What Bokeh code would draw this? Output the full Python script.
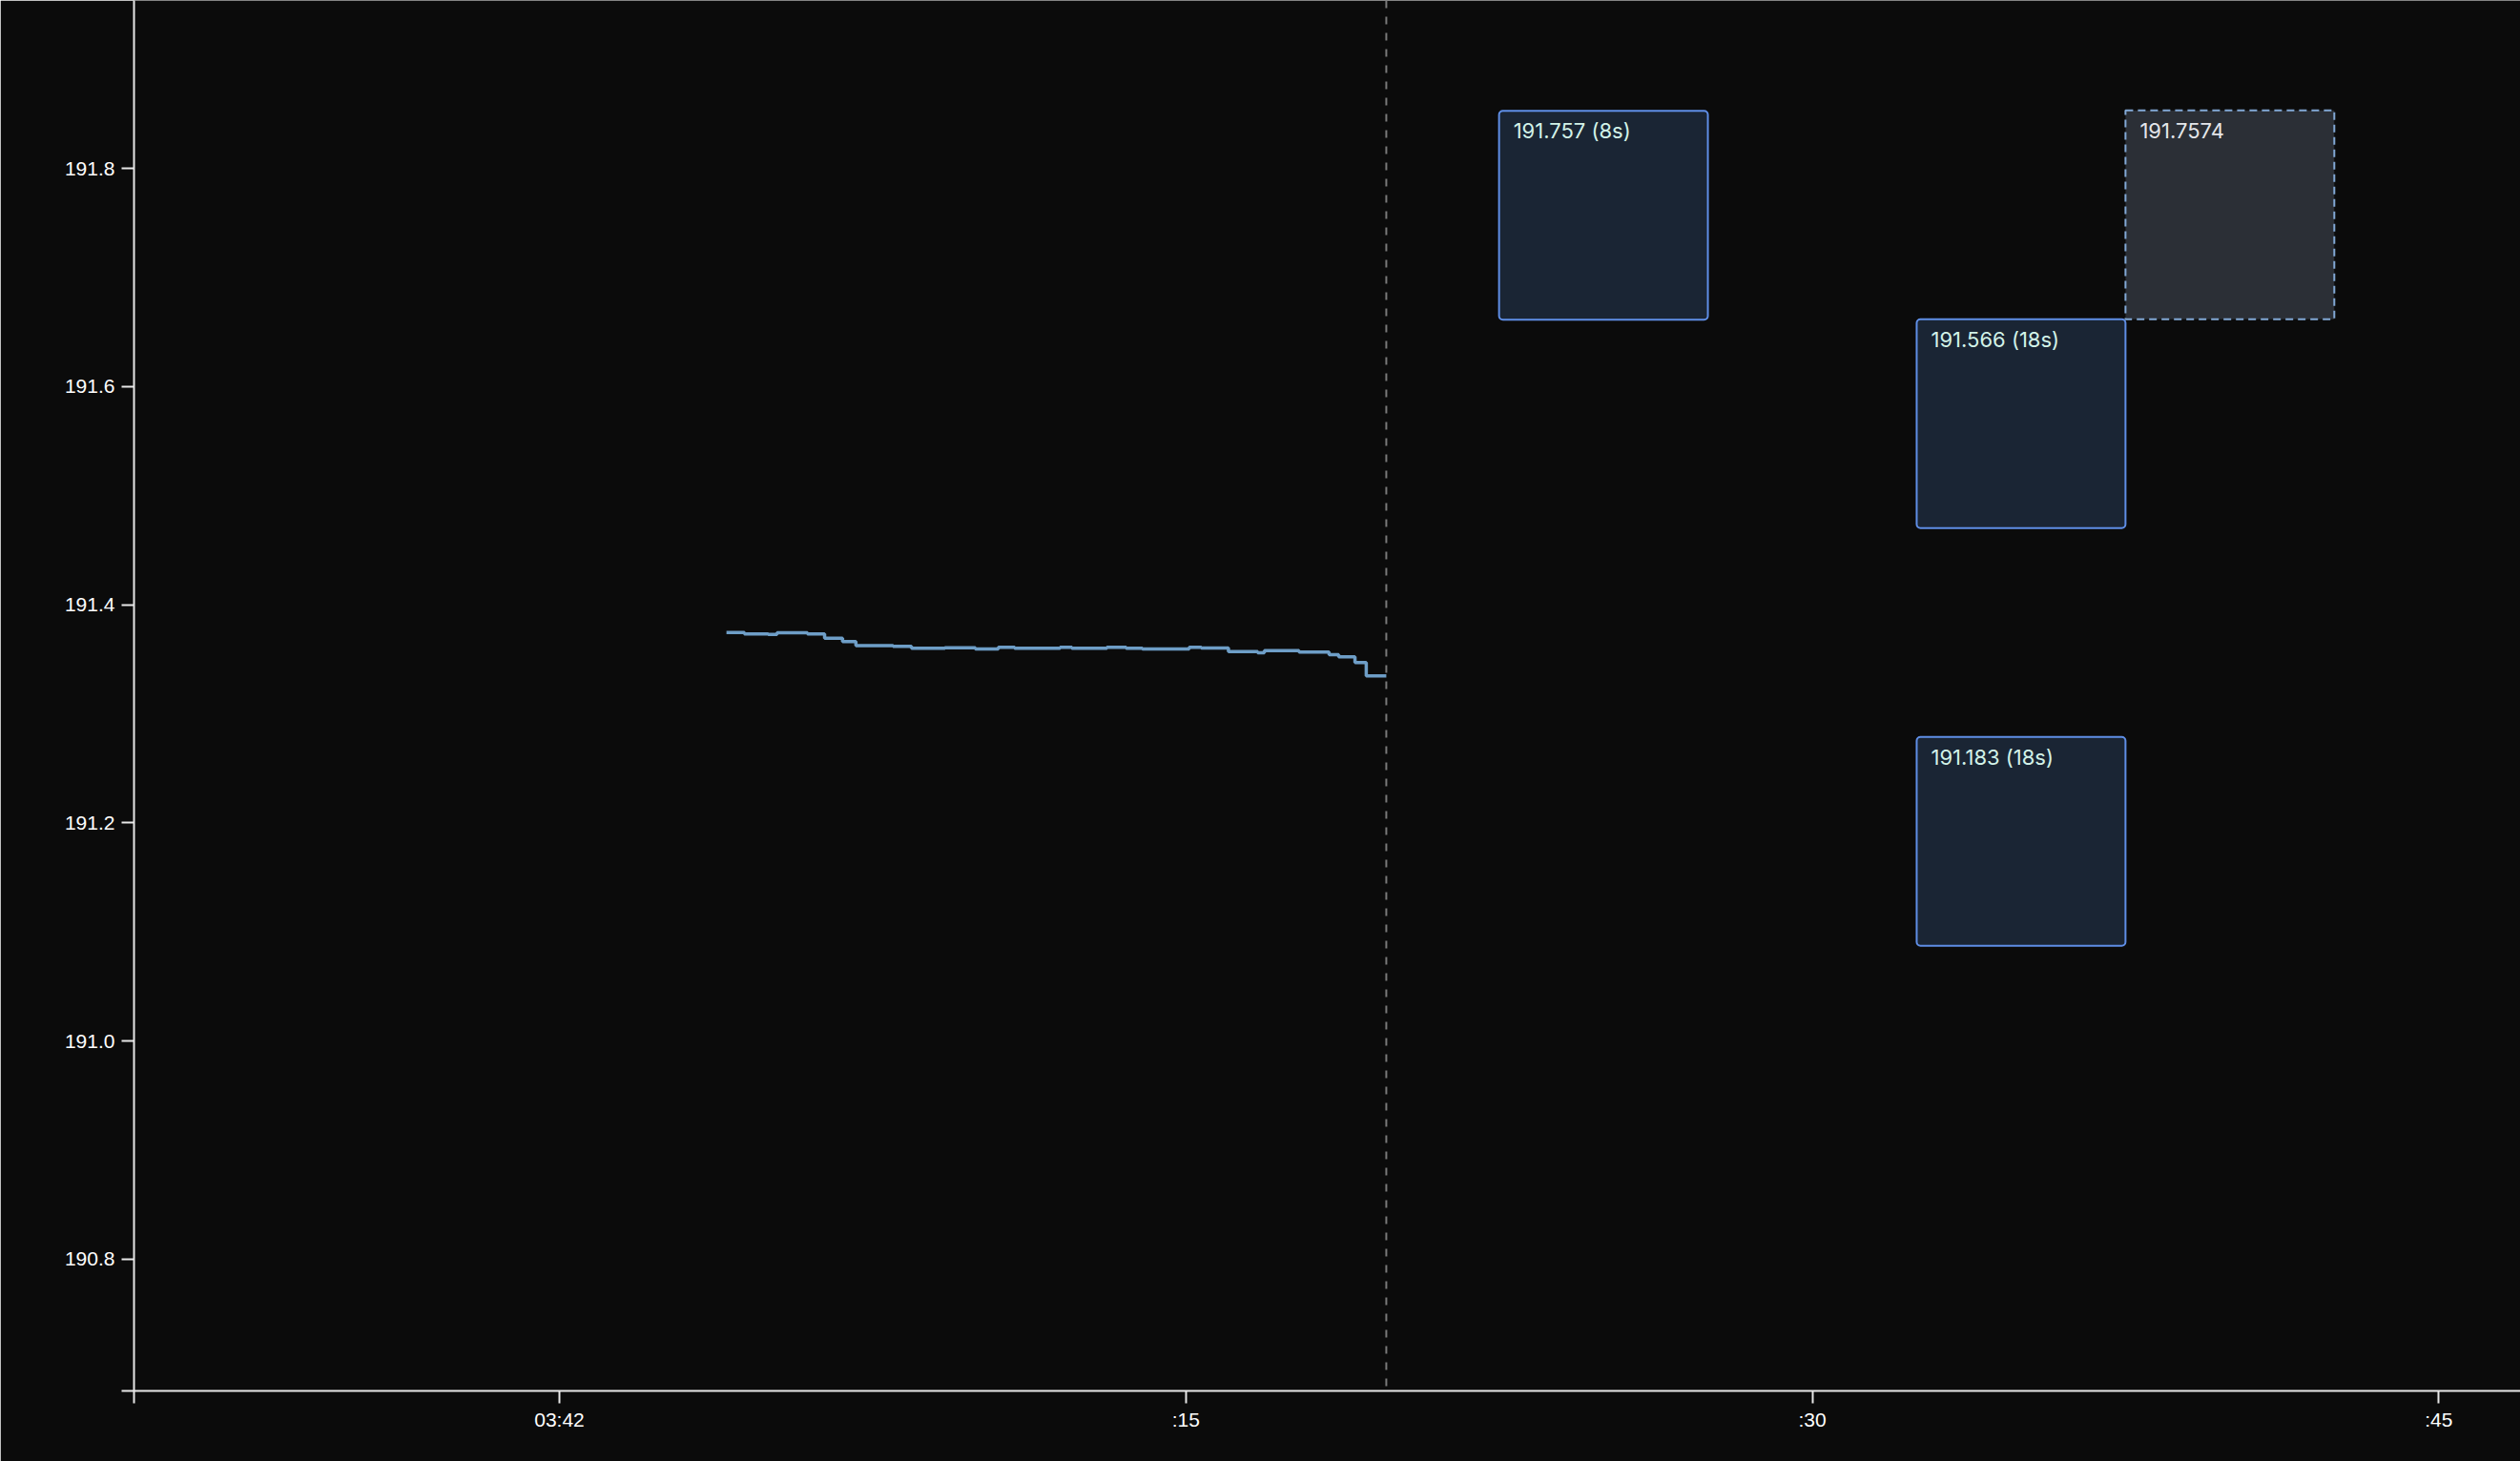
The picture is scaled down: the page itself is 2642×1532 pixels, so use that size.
from bokeh.plotting import figure
from bokeh.models import FixedTicker, Span, ColumnDataSource, Range1d
from bokeh.core.properties import value
from bokeh.embed import file_html
from bokeh.resources import INLINE

# ---- data (x in seconds after 03:42:00) ----
step_t = [4.0, 4.43, 5.0, 5.21, 5.94, 6.35, 6.78, 7.10, 7.99, 8.43, 9.23, 9.96, 10.51, 10.90,
          11.99, 12.27, 13.11, 13.57, 13.96, 15.08, 15.37, 16.02, 16.72, 16.88, 17.71, 18.43,
          18.66, 19.05, 19.32, 19.80]
step_v = [191.3746, 191.3732, 191.3728, 191.3743, 191.3732, 191.3693, 191.3662, 191.3624,
          191.3618, 191.3600, 191.3606, 191.3595, 191.3609, 191.3600, 191.3609, 191.3600,
          191.3609, 191.3600, 191.3595, 191.3609, 191.3603, 191.3571, 191.3559, 191.3580,
          191.3566, 191.3542, 191.3522, 191.3469, 191.3347, 191.3347]
now_t = 19.8

box_t = [25.0, 35.0, 35.0, 40.0]
box_v = [191.757, 191.566, 191.183, 191.7574]
box_labels = ["191.757 (8s)", "191.566 (18s)", "191.183 (18s)", "191.7574"]
box_kind = ["solid", "solid", "solid", "dashed"]

y_ticks = [190.8, 191.0, 191.2, 191.4, 191.6, 191.8]
y_tick_labels = ["190.8", "191.0", "191.2", "191.4", "191.6", "191.8"]
x_ticks = [0, 15, 30, 45]
x_tick_labels = ["03:42", ":15", ":30", ":45"]

x_start, x_end = -10.1863, 46.958
y_start, y_end = 190.67937, 191.95385
box_half_w = 2.5
box_half_h = 0.0957

BG = "#0b0b0b"

p = figure(width=2642, height=1532, output_backend="svg", toolbar_location=None,
           x_range=Range1d(x_start, x_end), y_range=Range1d(y_start, y_end),
           min_border_left=140, min_border_right=0, min_border_top=0, min_border_bottom=74)
p.background_fill_color = BG
p.border_fill_color = BG
p.outline_line_color = None
p.grid.visible = False

# step line
p.step(step_t, step_v, mode="after", line_color="#74a6d2", line_width=3.5, line_alpha=0.95)

# now marker
p.add_layout(Span(location=now_t, dimension="height", line_color="#7a7a7a",
                  line_width=2, line_dash="8 9"))

# boxes
solid = [i for i, k in enumerate(box_kind) if k == "solid"]
dashed = [i for i, k in enumerate(box_kind) if k == "dashed"]

def box_src(idx):
    return ColumnDataSource(dict(
        left=[box_t[i] - box_half_w for i in idx],
        right=[box_t[i] + box_half_w for i in idx],
        top=[box_v[i] + box_half_h for i in idx],
        bottom=[box_v[i] - box_half_h for i in idx],
        label=[box_labels[i] for i in idx],
    ))

s_src = box_src(solid)
d_src = box_src(dashed)
p.quad(left="left", right="right", top="top", bottom="bottom", source=s_src,
       fill_color="#1a2534", line_color="#5f8ee6", line_width=2, border_radius=4)
p.quad(left="left", right="right", top="top", bottom="bottom", source=d_src,
       fill_color="#2b2f36", line_color="#82a9d6", line_width=2, line_dash="8 5")

p.text(x="left", y="top", text="label", source=s_src, x_offset=15, y_offset=8,
       text_align="left", text_baseline="top", text_color="#d2f2e8",
       text_font=value("Inter"), text_font_size="22px")
p.text(x="left", y="top", text="label", source=d_src, x_offset=15, y_offset=13,
       text_align="left", text_baseline="top", text_color="#e4e6ea",
       text_font=value("Inter"), text_font_size="22px")

# axes
p.xaxis.ticker = FixedTicker(ticks=[x_start] + x_ticks)
p.yaxis.ticker = FixedTicker(ticks=[y_start] + y_ticks)
xo = {x_start: ""}
xo.update({t: l for t, l in zip(x_ticks, x_tick_labels)})
yo = {y_start: ""}
yo.update({t: l for t, l in zip(y_ticks, y_tick_labels)})
p.xaxis.major_label_overrides = xo
p.yaxis.major_label_overrides = yo

for ax in (p.xaxis, p.yaxis):
    ax.axis_line_color = "#e8e8e8"
    ax.axis_line_width = 2
    ax.major_tick_line_color = "#e8e8e8"
    ax.major_tick_line_width = 2
    ax.major_tick_out = 13
    ax.major_tick_in = 0
    ax.minor_tick_line_color = None
    ax.major_label_text_color = "#ffffff"
    ax.major_label_text_font = "Liberation Sans"
    ax.major_label_text_font_size = "21px"
p.yaxis.major_label_standoff = 7
p.xaxis.major_label_standoff = 5

open("out.html", "w").write(file_html(p, INLINE))
